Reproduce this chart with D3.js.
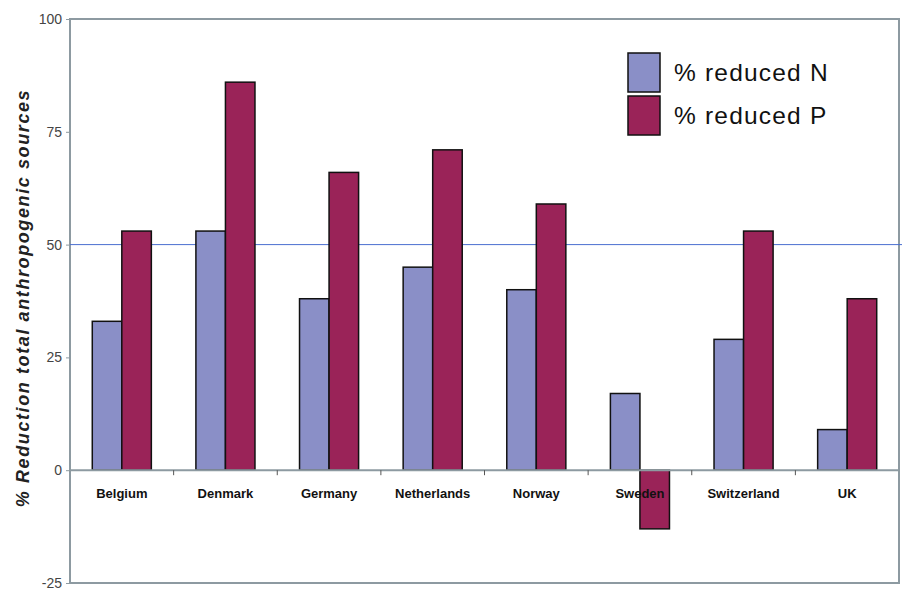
<!DOCTYPE html>
<html><head><meta charset="utf-8">
<script src="https://cdn.jsdelivr.net/npm/d3@7"></script>
<style>body{margin:0;background:#fff;} svg{display:block;font-family:Arial,"Liberation Sans",sans-serif;}</style>
</head><body>
<svg id="chart" width="902" height="590"></svg>
<script>
const categories = ["Belgium","Denmark","Germany","Netherlands","Norway","Sweden","Switzerland","UK"];
const reducedN = [33,53,38,45,40,17,29,9];
const reducedP = [53,86,66,71,59,-13,53,38];
const seriesNames = ["% reduced N","% reduced P"];
const yTicks = [-25,0,25,50,75,100];
const referenceValue = 50;

const colors = ["#8a8fc7","#9a2358"];
const svg = d3.select("#chart");
const mLeft = 70, mRight = 899, mTop = 19, mBottom = 583;

const y = d3.scaleLinear().domain([-25,100]).range([mBottom, mTop]);
const x0 = d3.scaleBand().domain(categories).range([mLeft, mRight]).paddingInner(0.43).paddingOuter(0.215);
const xc = d3.scaleBand().domain(categories).range([mLeft, mRight]);
const x1 = d3.scaleBand().domain([0,1]).range([0, x0.bandwidth()]);

// frame
svg.append("rect").attr("x",mLeft).attr("y",mTop).attr("width",mRight-mLeft).attr("height",mBottom-mTop)
  .attr("fill","none").attr("stroke","#8d9aa1").attr("stroke-width",2);

// reference line
svg.append("line").attr("x1",mLeft).attr("x2",902).attr("y1",y(referenceValue)).attr("y2",y(referenceValue))
  .attr("stroke","#4a6fd0").attr("stroke-width",1);

// y axis
const yAxis = d3.axisLeft(y).tickValues(yTicks).tickSize(4).tickPadding(4).tickFormat(d=>String(d));
const ga = svg.append("g").attr("transform",`translate(${mLeft},0)`).call(yAxis);
ga.select(".domain").remove();
ga.selectAll("line").attr("stroke","#8d9aa1");
ga.selectAll("text").attr("font-size",14).attr("fill","#444").attr("font-family","Arial, 'Liberation Sans', sans-serif");

// bars
const data = categories.map((c,i)=>({c, v:[reducedN[i], reducedP[i]]}));
const g = svg.append("g");
data.forEach(d=>{
  d.v.forEach((v,j)=>{
    g.append("rect")
      .attr("x", x0(d.c)+x1(j))
      .attr("y", y(Math.max(0,v)))
      .attr("width", x1.bandwidth())
      .attr("height", Math.abs(y(v)-y(0)))
      .attr("fill", colors[j]).attr("stroke","#111").attr("stroke-width",1.5);
  });
});

// zero axis line
svg.append("line").attr("x1",mLeft).attr("x2",mRight).attr("y1",y(0)).attr("y2",y(0))
  .attr("stroke","#8d9aa1").attr("stroke-width",2);
// category boundary ticks
categories.slice(1).forEach(c=>{
  svg.append("line").attr("x1",xc(c)).attr("x2",xc(c)).attr("y1",y(0)).attr("y2",y(0)+5)
    .attr("stroke","#555").attr("stroke-width",1);
});

// category labels
svg.append("g").selectAll("text").data(categories).join("text")
  .attr("x", d=>xc(d)+xc.bandwidth()/2).attr("y", 498)
  .attr("text-anchor","middle").attr("font-size",13).attr("font-weight","bold").attr("fill","#111")
  .text(d=>d);

// y title
svg.append("text").attr("transform","translate(29,298) rotate(-90)")
  .attr("text-anchor","middle").attr("font-size",18).attr("font-weight","bold").attr("font-style","italic")
  .attr("letter-spacing",1.6).attr("fill","#222")
  .text("% Reduction total anthropogenic sources");

// legend
const lg = svg.append("g");
seriesNames.forEach((s,i)=>{
  lg.append("rect").attr("x",628).attr("y",53+i*43).attr("width",32).attr("height",39)
    .attr("fill",colors[i]).attr("stroke","#111").attr("stroke-width",1.5);
  lg.append("text").attr("x",674).attr("y",81+i*43).attr("font-size",24.5).attr("letter-spacing",1.2)
    .attr("fill","#111").text(s);
});
</script>
</body></html>
